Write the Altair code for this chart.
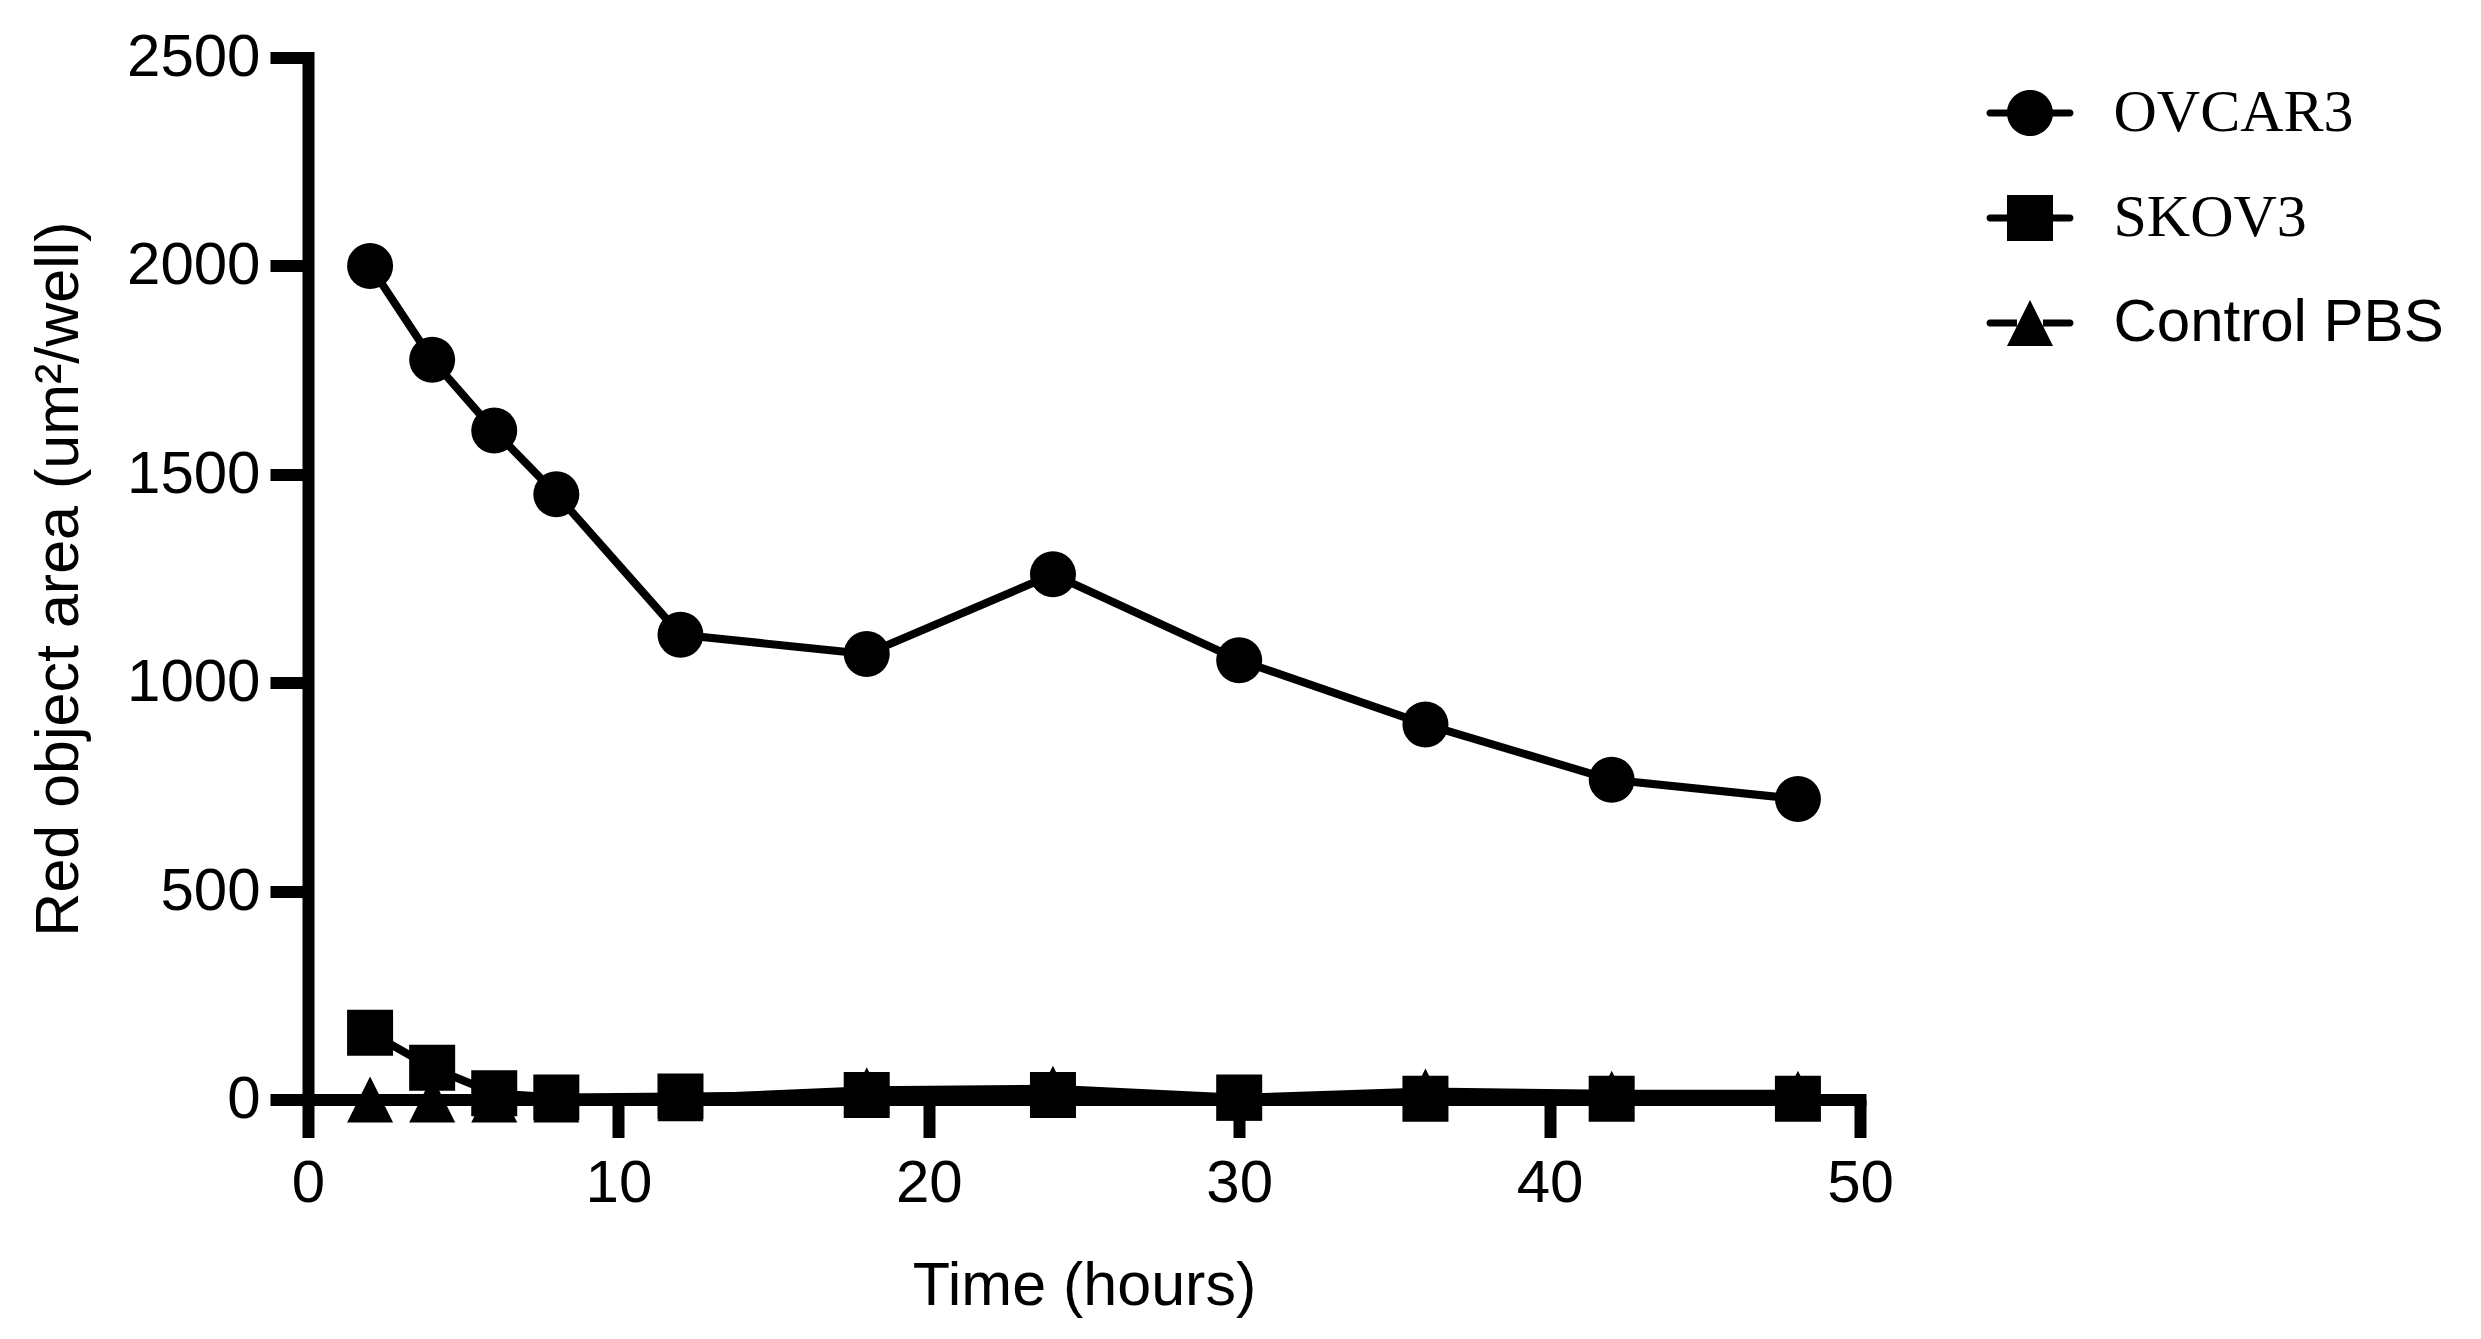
import altair as alt
import pandas as pd

hours = [2, 4, 6, 8, 12, 18, 24, 30, 36, 42, 48]
ovcar3 = [2000, 1775, 1605, 1452, 1115, 1069, 1260, 1054, 900, 767, 721]
skov3 = [160, 76, 15, 5, 7, 11, 11, 5, 2, 2, 2]
control_pbs = [0, 0, 0, 0, 3, 22, 26, 4, 19, 14, 14]
series_names = ["OVCAR3", "SKOV3", "Control PBS"]
x_ticks = [0, 10, 20, 30, 40, 50]
y_ticks = [0, 500, 1000, 1500, 2000, 2500]

rows = []
for name, vals in [("Control PBS", control_pbs), ("SKOV3", skov3), ("OVCAR3", ovcar3)]:
    for h, v in zip(hours, vals):
        rows.append({"series": name, "hours": h, "area": v})
df = pd.DataFrame(rows)

# legend symbols: marker with line stubs (unit box -1..1)
stub = "M-0.3,0.08L-0.92,0.08A0.08,0.08,0,0,1,-0.92,-0.08L-0.3,-0.08Z" \
       "M0.3,-0.08L0.92,-0.08A0.08,0.08,0,0,1,0.92,0.08L0.3,0.08Z"
r = 0.529
leg_circle = stub + f"M{r},0A{r},{r},0,1,1,-{r},0A{r},{r},0,1,1,{r},0Z"
leg_square = stub + f"M-{r},-{r}L{r},-{r}L{r},{r}L-{r},{r}Z"
leg_tri = stub + f"M0,-{r}L{r},{r}L-{r},{r}Z"
sym_expr = (f"datum.label === 'OVCAR3' ? '{leg_circle}' : "
            f"(datum.label === 'SKOV3' ? '{leg_square}' : '{leg_tri}')")
font_expr = "datum.label === 'Control PBS' ? 'Liberation Sans' : 'Liberation Serif'"

x_enc = alt.X("hours:Q", scale=alt.Scale(domain=[0, 50], nice=False, zero=True),
              axis=alt.Axis(values=x_ticks, title="Time (hours)", labelPadding=17,
                            titlePadding=43, format="d", labelFlush=False))
y_enc = alt.Y("area:Q", scale=alt.Scale(domain=[0, 2500], nice=False),
              axis=alt.Axis(values=y_ticks, title="Red object area (um²/well)",
                            labelPadding=10, titlePadding=36, format="d",
                            labelFlush=False))

base = alt.Chart(df)

lines = base.mark_line(strokeWidth=8, strokeJoin="round").encode(
    x=x_enc, y=y_enc,
    color=alt.Color("series:N",
                    scale=alt.Scale(domain=series_names, range=["black", "black", "black"]),
                    legend=alt.Legend(
                        title=None, orient="none", legendX=1678.5, legendY=12,
                        symbolType={"expr": sym_expr},
                        symbolSize=7569, symbolStrokeWidth=0, symbolOpacity=1,
                        symbolFillColor="black",
                        labelFont={"expr": font_expr},
                        labelFontSize=60, labelColor="black", labelOffset=40,
                        rowPadding=31, padding=0, labelLimit=0)),
)

# shape scale lists the series in drawing order (a different domain order keeps
# its (hidden) legend from merging into the colour legend)
shape_domain = ["Control PBS", "SKOV3", "OVCAR3"]
shape_range = ["M0,-1L1,1L-1,1Z", "square", "circle"]

points = base.mark_point(filled=True, size=2116, opacity=1, strokeWidth=0,
                         color="black").encode(
    x=x_enc,
    y=y_enc,
    shape=alt.Shape("series:N",
                    scale=alt.Scale(domain=shape_domain, range=shape_range),
                    legend=None),
)

chart = alt.layer(lines, points).properties(
    width=1552, height=1042,
    padding={"left": 300, "top": 49.5, "right": 613, "bottom": 231.5},
    autosize=alt.AutoSizeParams(type="none"),
).configure_view(stroke=None).configure_axis(
    grid=False,
    domainColor="black", domainWidth=12, domainCap="square",
    tickColor="black", tickWidth=12, tickSize=38,
    labelFont="Liberation Sans", labelFontSize=60, labelColor="black",
    titleFont="Liberation Sans", titleFontSize=61, titleFontWeight="normal",
    titleColor="black",
)

chart.save("out.html", embed_options={"renderer": "svg", "actions": False})
